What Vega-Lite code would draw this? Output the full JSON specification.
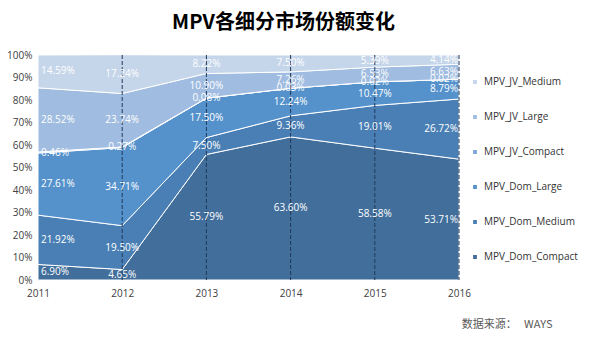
{
  "$schema": "https://vega.github.io/schema/vega-lite/v6.json",
  "width": 421,
  "height": 225,
  "padding": {"left": 6, "top": 13, "right": 5, "bottom": 5},
  "background": "white",
  "config": {"view": {"stroke": null}, "font": "Open Sans"},
  "title": {"text": "MPV各细分市场份额变化", "font": "Noto Sans CJK SC", "fontSize": 20, "fontWeight": "bold", "color": "#000000", "anchor": "middle", "offset": 17, "dx": 35},
  "datasets": {
    "share": [
      {"year": "2011", "segment": "MPV_Dom_Compact", "ord": 1, "value": 6.90},
      {"year": "2011", "segment": "MPV_Dom_Medium", "ord": 2, "value": 21.92},
      {"year": "2011", "segment": "MPV_Dom_Large", "ord": 3, "value": 27.61},
      {"year": "2011", "segment": "MPV_JV_Compact", "ord": 4, "value": 0.46},
      {"year": "2011", "segment": "MPV_JV_Large", "ord": 5, "value": 28.52},
      {"year": "2011", "segment": "MPV_JV_Medium", "ord": 6, "value": 14.59},
      {"year": "2012", "segment": "MPV_Dom_Compact", "ord": 1, "value": 4.65},
      {"year": "2012", "segment": "MPV_Dom_Medium", "ord": 2, "value": 19.50},
      {"year": "2012", "segment": "MPV_Dom_Large", "ord": 3, "value": 34.71},
      {"year": "2012", "segment": "MPV_JV_Compact", "ord": 4, "value": 0.27},
      {"year": "2012", "segment": "MPV_JV_Large", "ord": 5, "value": 23.74},
      {"year": "2012", "segment": "MPV_JV_Medium", "ord": 6, "value": 17.24},
      {"year": "2013", "segment": "MPV_Dom_Compact", "ord": 1, "value": 55.79},
      {"year": "2013", "segment": "MPV_Dom_Medium", "ord": 2, "value": 7.50},
      {"year": "2013", "segment": "MPV_Dom_Large", "ord": 3, "value": 17.50},
      {"year": "2013", "segment": "MPV_JV_Compact", "ord": 4, "value": 0.08},
      {"year": "2013", "segment": "MPV_JV_Large", "ord": 5, "value": 10.90},
      {"year": "2013", "segment": "MPV_JV_Medium", "ord": 6, "value": 8.22},
      {"year": "2014", "segment": "MPV_Dom_Compact", "ord": 1, "value": 63.60},
      {"year": "2014", "segment": "MPV_Dom_Medium", "ord": 2, "value": 9.36},
      {"year": "2014", "segment": "MPV_Dom_Large", "ord": 3, "value": 12.24},
      {"year": "2014", "segment": "MPV_JV_Compact", "ord": 4, "value": 0.03},
      {"year": "2014", "segment": "MPV_JV_Large", "ord": 5, "value": 7.26},
      {"year": "2014", "segment": "MPV_JV_Medium", "ord": 6, "value": 7.50},
      {"year": "2015", "segment": "MPV_Dom_Compact", "ord": 1, "value": 58.58},
      {"year": "2015", "segment": "MPV_Dom_Medium", "ord": 2, "value": 19.01},
      {"year": "2015", "segment": "MPV_Dom_Large", "ord": 3, "value": 10.47},
      {"year": "2015", "segment": "MPV_JV_Compact", "ord": 4, "value": 0.02},
      {"year": "2015", "segment": "MPV_JV_Large", "ord": 5, "value": 6.53},
      {"year": "2015", "segment": "MPV_JV_Medium", "ord": 6, "value": 5.39},
      {"year": "2016", "segment": "MPV_Dom_Compact", "ord": 1, "value": 53.71},
      {"year": "2016", "segment": "MPV_Dom_Medium", "ord": 2, "value": 26.72},
      {"year": "2016", "segment": "MPV_Dom_Large", "ord": 3, "value": 8.79},
      {"year": "2016", "segment": "MPV_JV_Compact", "ord": 4, "value": 0.02},
      {"year": "2016", "segment": "MPV_JV_Large", "ord": 5, "value": 6.63},
      {"year": "2016", "segment": "MPV_JV_Medium", "ord": 6, "value": 4.14}
    ],
    "dividers": [{"year": "2012"}, {"year": "2013"}, {"year": "2014"}, {"year": "2015"}, {"year": "2016"}]
  },
  "data": {"name": "share"},
  "encoding": {
    "x": {"field": "year", "type": "ordinal", "scale": {"type": "point", "padding": 0},
      "axis": {"labelAngle": 0, "domain": false, "ticks": false, "labelFontSize": 10, "labelColor": "#404040", "labelPadding": 8,
        "title": "数据来源：\u00a0\u00a0\u00a0WAYS", "titleFont": "Noto Sans CJK SC", "titleFontSize": 11, "titleFontWeight": "normal", "titleColor": "#595959", "titleAlign": "right", "titleAnchor": "end", "titleX": 514, "titleY": 44, "titleBaseline": "middle"}}
  },
  "layer": [
    {
      "mark": {"type": "area", "stroke": "white", "strokeWidth": 1, "opacity": 1},
      "encoding": {
        "y": {"field": "value", "type": "quantitative", "stack": "zero", "scale": {"domain": [0, 100]},
          "axis": {"values": [0,10,20,30,40,50,60,70,80,90,100], "labelOverlap": false, "labelExpr": "datum.value + '%'", "grid": false, "ticks": false, "domainColor": "#bfbfbf", "labelFontSize": 10, "labelColor": "#404040", "title": null, "labelPadding": 6}},
        "color": {"field": "segment", "type": "nominal",
          "scale": {"domain": ["MPV_JV_Medium", "MPV_JV_Large", "MPV_JV_Compact", "MPV_Dom_Large", "MPV_Dom_Medium", "MPV_Dom_Compact"],
            "range": ["#c5d5ea", "#a0bce0", "#7ea6d8", "#5592cc", "#4a7fb5", "#416e9b"]},
          "legend": {"title": null, "orient": "none", "legendX": 432, "legendY": 22, "symbolType": "square", "symbolSize": 28, "labelFontSize": 10, "labelColor": "#333333", "rowPadding": 23, "padding": 0, "labelOffset": 4}},
        "order": {"field": "ord", "type": "quantitative"}
      }
    },
    {
      "data": {"name": "dividers"},
      "mark": {"type": "rule", "color": "#203a5a", "strokeDash": [4, 2], "strokeWidth": 1},
      "encoding": {}
    },
    {
      "transform": [
        {"stack": "value", "groupby": ["year"], "sort": [{"field": "ord", "order": "ascending"}], "as": ["y0", "y1"]},
        {"calculate": "(datum.y0 + datum.y1) / 2", "as": "mid"},
        {"calculate": "format(datum.value, '.2f') + '%'", "as": "lbl"}
      ],
      "encoding": {
        "y": {"field": "mid", "type": "quantitative", "scale": {"domain": [0, 100]},
          "axis": {"values": [0,10,20,30,40,50,60,70,80,90,100], "labelOverlap": false, "labelExpr": "datum.value + '%'", "grid": false, "ticks": false, "domainColor": "#bfbfbf", "labelFontSize": 10, "labelColor": "#404040", "title": null, "labelPadding": 6}},
        "text": {"field": "lbl"}
      },
      "layer": [
        {"transform": [{"filter": "datum.year == '2011'"}], "mark": {"type": "text", "align": "left", "dx": 3, "color": "white", "fontSize": 10}},
        {"transform": [{"filter": "datum.year != '2011' && datum.year != '2016'"}], "mark": {"type": "text", "align": "center", "color": "white", "fontSize": 10}},
        {"transform": [{"filter": "datum.year == '2016'"}], "mark": {"type": "text", "align": "right", "dx": -1, "color": "white", "fontSize": 10}}
      ]
    }
  ]
}
